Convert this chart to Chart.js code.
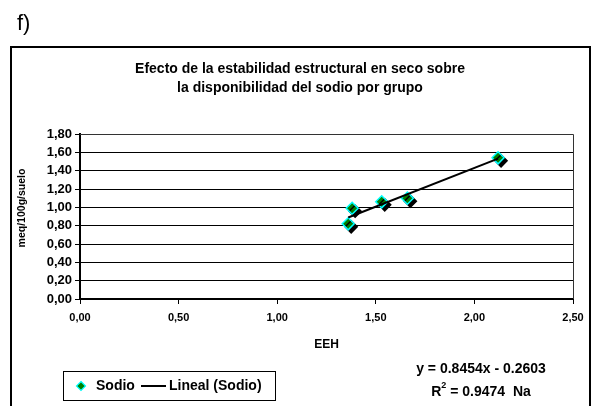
<!DOCTYPE html>
<html>
<head>
<meta charset="utf-8">
<script src="https://cdn.jsdelivr.net/npm/chart.js@4.4.1/dist/chart.umd.min.js"></script>
<style>
  html, body { margin: 0; padding: 0; background: #fff; }
  #wrap { width: 593px; height: 406px; }
</style>
</head>
<body>
<div id="wrap"><canvas id="chart-sodio" width="593" height="406"></canvas></div>
<script>
// Sodio vs EEH (estabilidad estructural en seco), con recta de tendencia lineal
const panelLabel = 'f)';
const chartTitle = ['Efecto de la estabilidad estructural en seco sobre', 'la disponibilidad del sodio por grupo'];
const xAxisTitle = 'EEH';
const yAxisTitle = 'meq/100g/suelo';

const eehValues = [1.36, 1.38, 1.53, 1.66, 2.12];
const sodioValues = [0.82, 0.99, 1.06, 1.10, 1.54];

// coeficientes de la tendencia tal como aparecen en el grafico
const trendSlope = 0.8454;
const trendIntercept = -0.2603;
const trendEquation = 'y = 0.8454x - 0.2603';
const trendR2 = '0.9474';
const trendSuffix = 'Na';

const xTicks = [0, 0.5, 1, 1.5, 2, 2.5];
const yTicks = [0, 0.2, 0.4, 0.6, 0.8, 1, 1.2, 1.4, 1.6, 1.8];

const FONT = "'Liberation Sans', Arial, sans-serif";

function fmt(v) {
    return v.toFixed(2).replace('.', ',');
}

const sodioPoints = eehValues.map((x, i) => ({ x: x, y: sodioValues[i] }));
const xMin = Math.min(...eehValues);
const xMax = Math.max(...eehValues);
const trendPoints = [
    { x: xMin, y: trendSlope * xMin + trendIntercept },
    { x: xMax, y: trendSlope * xMax + trendIntercept }
];

// sombra negra de los rombos
const pointShadow = {
    id: 'pointShadow',
    beforeDatasetDraw(chart, args) {
        if (args.index !== 0) return;
        const ctx = chart.ctx;
        ctx.save();
        ctx.shadowColor = '#000';
        ctx.shadowOffsetX = 3;
        ctx.shadowOffsetY = 3;
        ctx.shadowBlur = 0;
    },
    afterDatasetDraw(chart, args) {
        if (args.index !== 0) return;
        chart.ctx.restore();
    }
};

// marco, titulos, ecuacion y leyenda
const decorations = {
    id: 'decorations',
    afterDraw(chart) {
        const { ctx, chartArea: { left, top, right, bottom } } = chart;
        ctx.save();
        ctx.fillStyle = '#000';
        ctx.strokeStyle = '#000';

        // etiqueta del panel
        ctx.font = '22px ' + FONT;
        ctx.textAlign = 'left';
        ctx.textBaseline = 'alphabetic';
        ctx.fillText(panelLabel, 17, 30);

        // marco exterior
        ctx.lineWidth = 2;
        ctx.strokeRect(11, 47, 579, 420);

        // borde del area de trazado
        ctx.lineWidth = 1;
        ctx.strokeStyle = '#333';
        ctx.beginPath();
        ctx.moveTo(left, Math.round(top) + 0.5);
        ctx.lineTo(Math.round(right) + 0.5, Math.round(top) + 0.5);
        ctx.lineTo(Math.round(right) + 0.5, bottom);
        ctx.stroke();

        // titulo
        ctx.fillStyle = '#000';
        ctx.font = 'bold 14px ' + FONT;
        ctx.textAlign = 'center';
        ctx.textBaseline = 'middle';
        ctx.fillText(chartTitle[0], 300, 69);
        ctx.fillText(chartTitle[1], 300, 88);

        // titulos de ejes
        ctx.font = 'bold 12px ' + FONT;
        ctx.fillText(xAxisTitle, (left + right) / 2, 345);
        ctx.font = 'bold 10.5px ' + FONT;
        ctx.save();
        ctx.translate(22.5, 208);
        ctx.rotate(-Math.PI / 2);
        ctx.fillText(yAxisTitle, 0, 0);
        ctx.restore();

        // ecuacion de la tendencia
        ctx.font = 'bold 14px ' + FONT;
        ctx.fillText(trendEquation, 481, 369);
        const rest = ' = ' + trendR2 + '  ' + trendSuffix;
        const wR = ctx.measureText('R').width;
        const wRest = ctx.measureText(rest).width;
        ctx.font = 'bold 9px ' + FONT;
        const wSup = ctx.measureText('2').width;
        const total = wR + wSup + wRest;
        let cx = 481 - total / 2;
        ctx.textAlign = 'left';
        ctx.font = 'bold 14px ' + FONT;
        ctx.fillText('R', cx, 392);
        ctx.font = 'bold 9px ' + FONT;
        ctx.fillText('2', cx + wR, 386);
        ctx.font = 'bold 14px ' + FONT;
        ctx.fillText(rest, cx + wR + wSup, 392);

        // leyenda
        ctx.lineWidth = 1;
        ctx.strokeStyle = '#000';
        ctx.strokeRect(63.5, 371.5, 212, 29);
        const ds0 = chart.data.datasets[0];
        const ds1 = chart.data.datasets[1];
        const ly = 386;
        ctx.beginPath();
        ctx.moveTo(81, ly - 4.5);
        ctx.lineTo(85.5, ly);
        ctx.lineTo(81, ly + 4.5);
        ctx.lineTo(76.5, ly);
        ctx.closePath();
        ctx.fillStyle = ds0.pointBackgroundColor;
        ctx.fill();
        ctx.strokeStyle = ds0.pointBorderColor;
        ctx.lineWidth = 1.2;
        ctx.stroke();
        ctx.fillStyle = '#000';
        ctx.font = 'bold 14px ' + FONT;
        ctx.textBaseline = 'middle';
        ctx.fillText(ds0.label, 96, ly);
        ctx.strokeStyle = ds1.borderColor;
        ctx.lineWidth = 2;
        ctx.beginPath();
        ctx.moveTo(141, ly);
        ctx.lineTo(166, ly);
        ctx.stroke();
        ctx.fillText(ds1.label, 169, ly);

        ctx.restore();
    }
};

new Chart(document.getElementById('chart-sodio'), {
    type: 'scatter',
    data: {
        datasets: [
            {
                label: 'Sodio',
                data: sodioPoints,
                pointStyle: 'rectRot',
                pointRadius: 6,
                pointHoverRadius: 6,
                pointBackgroundColor: '#008000',
                pointBorderColor: '#00ffff',
                pointBorderWidth: 1.5,
                showLine: false,
                order: 1
            },
            {
                label: 'Lineal (Sodio)',
                data: trendPoints,
                type: 'line',
                borderColor: '#000',
                borderWidth: 2,
                pointRadius: 0,
                fill: false,
                tension: 0,
                order: 0
            }
        ]
    },
    options: {
        responsive: false,
        animation: false,
        devicePixelRatio: 1,
        layout: {
            padding: { top: 134, left: 0, right: 20, bottom: 0 }
        },
        plugins: {
            legend: { display: false },
            title: { display: false },
            tooltip: { enabled: false }
        },
        scales: {
            x: {
                type: 'linear',
                min: 0,
                max: 2.5,
                afterBuildTicks(scale) {
                    scale.ticks = xTicks.map(v => ({ value: v }));
                },
                afterFit(scale) {
                    scale.height = 107;
                },
                ticks: {
                    callback: v => fmt(v),
                    color: '#000',
                    font: { family: FONT, size: 11, weight: 'bold' },
                    padding: 7,
                    maxRotation: 0,
                    autoSkip: false
                },
                grid: {
                    drawOnChartArea: false,
                    drawTicks: true,
                    tickLength: 5,
                    color: '#000'
                },
                border: { color: '#000', width: 2 }
            },
            y: {
                min: 0,
                max: 1.8,
                afterBuildTicks(scale) {
                    scale.ticks = yTicks.map(v => ({ value: v }));
                },
                afterFit(scale) {
                    scale.width = 80;
                },
                ticks: {
                    callback: v => fmt(v),
                    color: '#000',
                    font: { family: FONT, size: 13, weight: 'bold' },
                    padding: 3,
                    autoSkip: false
                },
                grid: {
                    color: '#000',
                    lineWidth: 1,
                    drawTicks: true,
                    tickLength: 5
                },
                border: { color: '#000', width: 2 }
            }
        }
    },
    plugins: [pointShadow, decorations]
});
</script>
</body>
</html>
